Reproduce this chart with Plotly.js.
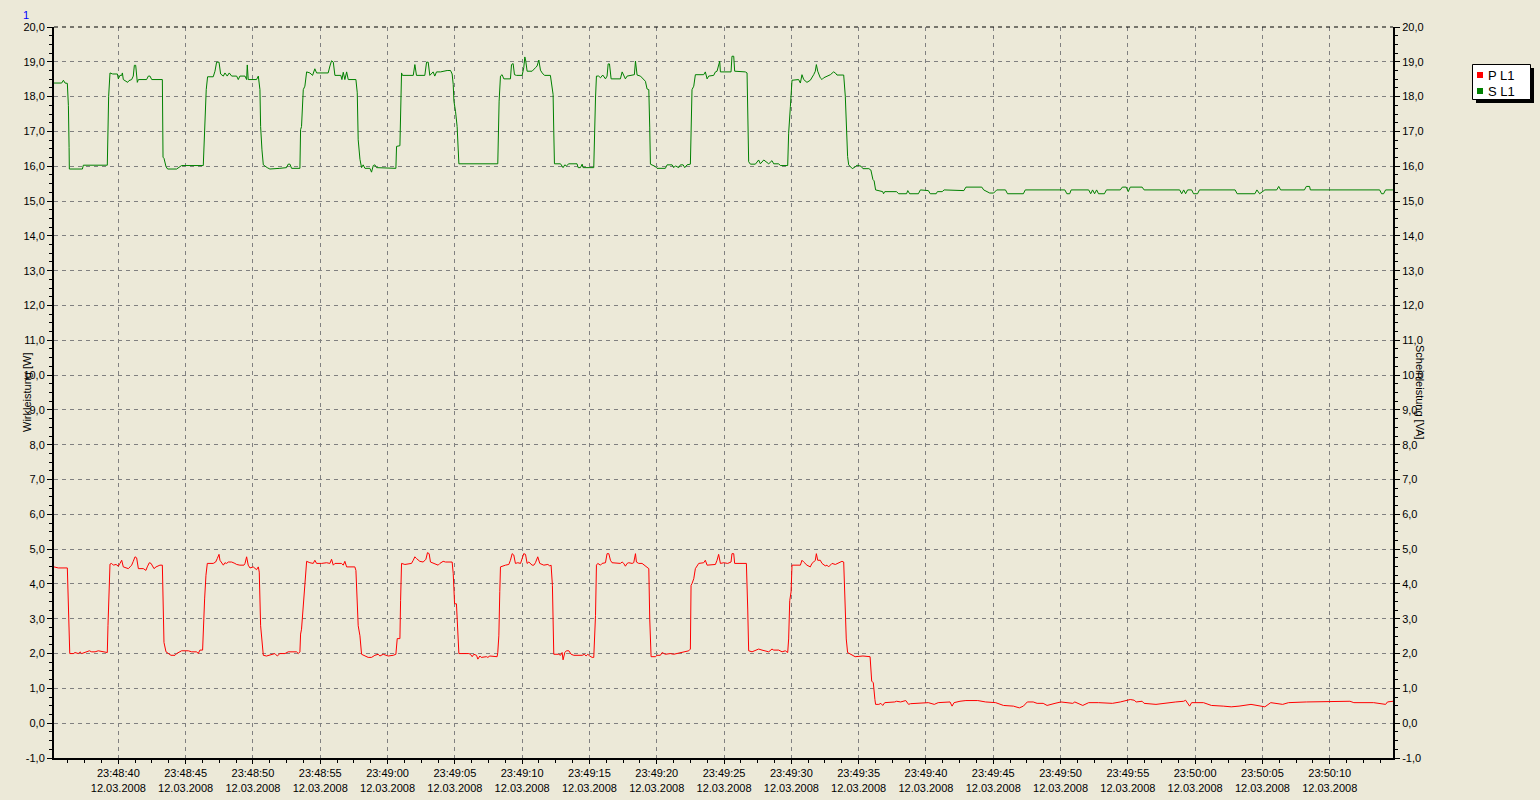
<!DOCTYPE html>
<html>
<head>
<meta charset="utf-8">
<script src="https://cdn.plot.ly/plotly-3.0.1.min.js"></script>
<style>
  html, body { margin: 0; padding: 0; background: #ECE9D8; }
  #chart { width: 1540px; height: 800px; }
</style>
</head>
<body>
<div id="chart"></div>
<script>
// ---- DATA (time in seconds after 23:48:00 on 12.03.2008, value) ----
const DATE_PREFIX = '2008-03-12 23:';
const DATE_LABEL = '12.03.2008';

// P L1 (Wirkleistung [W]) samples: [seconds, value]
const P_L1 = [[35.22,4.49],[35.54,4.46],[36.21,4.46],[36.26,3.81],[36.34,2.61],[36.39,2.00],[36.66,2.00],[36.78,2.03],[37.03,2.00],[37.15,2.05],[37.28,2.00],[37.65,2.05],[37.85,2.08],[38.02,2.05],[38.27,2.05],[38.51,2.08],[39.13,2.05],[39.18,2.03],[39.23,2.80],[39.31,3.86],[39.38,4.57],[39.50,4.59],[39.63,4.54],[39.83,4.56],[40.00,4.51],[40.12,4.59],[40.25,4.68],[40.37,4.49],[40.57,4.46],[40.74,4.44],[40.87,4.49],[40.99,4.54],[41.11,4.65],[41.24,4.78],[41.36,4.75],[41.49,4.44],[41.86,4.44],[42.05,4.39],[42.15,4.49],[42.30,4.61],[42.43,4.59],[42.55,4.52],[42.65,4.44],[42.80,4.49],[43.09,4.54],[43.27,4.54],[43.32,3.43],[43.39,2.32],[43.54,2.05],[43.71,2.00],[43.91,1.95],[44.21,1.95],[44.33,2.00],[44.70,2.08],[45.20,2.08],[45.45,2.05],[45.82,2.05],[45.94,2.00],[46.06,2.10],[46.26,2.10],[46.31,2.75],[46.41,3.57],[46.51,4.25],[46.61,4.59],[47.05,4.59],[47.23,4.63],[47.35,4.73],[47.48,4.85],[47.55,4.68],[47.67,4.59],[47.80,4.54],[47.92,4.61],[48.04,4.59],[48.17,4.63],[48.42,4.63],[48.66,4.59],[48.79,4.56],[49.03,4.54],[49.33,4.54],[49.41,4.59],[49.53,4.78],[49.65,4.54],[49.78,4.46],[50.02,4.49],[50.15,4.46],[50.27,4.41],[50.40,4.49],[50.47,4.34],[50.57,2.80],[50.67,2.37],[50.77,1.95],[51.01,1.93],[51.26,1.95],[51.51,1.98],[51.63,2.00],[51.81,1.93],[52.00,2.00],[52.38,2.00],[52.62,2.05],[53.24,2.05],[53.37,2.00],[53.49,2.05],[53.54,2.56],[53.61,2.70],[53.74,3.43],[53.86,4.15],[53.99,4.65],[54.23,4.61],[54.48,4.59],[54.60,4.68],[54.73,4.59],[55.10,4.59],[55.47,4.61],[55.72,4.59],[55.84,4.71],[55.97,4.54],[56.09,4.59],[56.58,4.59],[56.71,4.54],[56.83,4.65],[56.96,4.49],[57.57,4.49],[57.65,4.39],[57.82,2.80],[57.95,2.51],[58.07,1.98],[58.32,1.93],[58.56,1.89],[58.81,1.89],[59.06,1.95],[59.31,1.98],[59.43,1.93],[59.68,1.98],[60.05,1.93],[60.42,1.95],[60.62,1.98],[60.72,2.43],[60.92,2.43],[60.97,3.52],[61.04,4.59],[61.29,4.56],[61.78,4.59],[61.91,4.68],[62.03,4.78],[62.15,4.73],[62.40,4.65],[62.65,4.63],[62.85,4.71],[62.97,4.90],[63.09,4.87],[63.19,4.63],[63.39,4.59],[63.76,4.54],[63.89,4.59],[64.13,4.65],[64.31,4.63],[64.80,4.63],[64.88,4.30],[64.98,3.43],[65.12,3.43],[65.17,2.99],[65.30,2.00],[66.04,2.00],[66.16,1.98],[66.29,1.91],[66.41,1.98],[66.61,1.95],[66.71,1.84],[66.86,1.93],[66.96,1.89],[67.35,1.91],[67.45,1.89],[67.60,1.93],[68.14,1.91],[68.19,2.03],[68.27,2.51],[68.34,3.78],[68.39,4.49],[68.76,4.54],[69.01,4.56],[69.13,4.68],[69.26,4.87],[69.38,4.83],[69.50,4.59],[69.68,4.61],[69.88,4.59],[70.12,4.87],[70.25,4.85],[70.37,4.59],[70.50,4.63],[70.74,4.54],[70.87,4.54],[70.99,4.61],[71.16,4.78],[71.31,4.59],[71.61,4.54],[71.91,4.56],[72.05,4.52],[72.15,4.54],[72.25,3.96],[72.35,1.98],[72.72,1.98],[72.85,1.95],[72.97,2.03],[73.04,1.82],[73.17,2.03],[73.29,2.08],[73.47,2.08],[73.64,1.98],[73.84,1.95],[74.46,1.95],[74.63,1.98],[74.75,1.93],[74.88,1.98],[75.02,1.93],[75.20,1.89],[75.32,1.89],[75.45,3.09],[75.52,4.54],[75.62,4.59],[75.82,4.54],[75.94,4.59],[76.19,4.61],[76.31,4.87],[76.44,4.87],[76.56,4.68],[76.68,4.61],[77.05,4.61],[77.30,4.59],[77.43,4.63],[77.55,4.59],[77.67,4.51],[77.80,4.59],[77.92,4.61],[78.17,4.59],[78.29,4.61],[78.42,4.87],[78.49,4.63],[78.66,4.59],[78.91,4.59],[79.28,4.49],[79.41,4.44],[79.48,2.99],[79.58,1.91],[79.90,1.91],[80.02,1.95],[80.27,1.95],[80.40,2.03],[80.64,1.98],[81.01,2.00],[81.26,1.98],[81.51,2.00],[82.00,2.03],[82.38,2.08],[82.50,2.13],[82.55,3.96],[82.62,4.01],[82.75,4.15],[82.87,4.44],[83.12,4.59],[83.49,4.61],[83.61,4.68],[83.74,4.54],[84.11,4.56],[84.36,4.56],[84.48,4.68],[84.60,4.85],[84.73,4.59],[84.98,4.61],[85.27,4.59],[85.52,4.63],[85.59,4.87],[85.72,4.87],[85.79,4.59],[86.66,4.59],[86.76,3.28],[86.83,2.08],[87.08,2.05],[87.33,2.08],[87.57,2.13],[87.82,2.10],[88.32,2.05],[88.56,2.13],[88.69,2.10],[89.06,2.10],[89.31,2.05],[89.55,2.08],[89.73,2.03],[89.80,2.42],[89.88,3.52],[89.98,3.77],[90.05,4.54],[90.67,4.54],[90.79,4.68],[90.92,4.63],[91.16,4.54],[91.41,4.49],[91.53,4.59],[91.66,4.63],[91.78,4.68],[91.86,4.87],[91.96,4.68],[92.15,4.68],[92.28,4.59],[92.52,4.52],[92.65,4.54],[92.77,4.49],[93.02,4.59],[93.27,4.56],[93.51,4.61],[93.76,4.65],[93.89,4.63],[93.94,4.05],[94.01,2.99],[94.08,2.42],[94.18,2.03],[94.38,1.98],[94.63,1.93],[94.74,1.91],[95.32,1.93],[95.85,1.91],[95.97,1.21],[96.09,1.16],[96.21,0.68],[96.26,0.54],[96.50,0.54],[96.65,0.57],[96.79,0.51],[96.94,0.59],[97.68,0.61],[97.82,0.63],[98.12,0.61],[98.50,0.65],[98.71,0.54],[98.85,0.56],[100.18,0.59],[100.62,0.54],[100.91,0.59],[101.79,0.61],[101.94,0.49],[102.09,0.59],[102.53,0.63],[102.97,0.65],[103.85,0.65],[104.44,0.61],[105.18,0.59],[105.76,0.51],[106.50,0.49],[106.94,0.44],[107.24,0.49],[107.53,0.61],[107.97,0.61],[108.26,0.57],[108.71,0.57],[109.00,0.51],[109.59,0.57],[110.03,0.61],[110.91,0.57],[111.06,0.61],[111.65,0.51],[112.09,0.59],[112.82,0.59],[113.85,0.57],[114.44,0.61],[114.88,0.66],[115.18,0.68],[115.47,0.66],[115.62,0.61],[116.06,0.63],[116.21,0.57],[117.09,0.54],[117.97,0.59],[118.56,0.61],[119.15,0.63],[119.29,0.66],[119.59,0.49],[119.74,0.59],[120.62,0.59],[121.21,0.51],[122.09,0.49],[122.68,0.47],[123.26,0.49],[124.15,0.54],[125.18,0.47],[125.62,0.59],[126.50,0.54],[126.94,0.59],[128.26,0.61],[129.74,0.61],[130.91,0.62],[131.50,0.63],[131.79,0.59],[133.26,0.59],[134.15,0.54],[134.29,0.61],[134.70,0.63]];

// S L1 (Scheinleistung [VA]) samples: [seconds, value]
const S_L1 = [[35.22,18.39],[35.79,18.39],[35.92,18.47],[36.04,18.39],[36.21,18.38],[36.29,17.74],[36.34,16.54],[36.36,15.92],[37.33,15.92],[37.40,16.03],[39.18,16.03],[39.21,16.92],[39.28,18.01],[39.38,18.68],[39.58,18.65],[39.93,18.65],[40.00,18.51],[40.12,18.61],[40.25,18.61],[40.30,18.68],[40.37,18.49],[40.57,18.44],[40.69,18.41],[40.79,18.46],[40.99,18.49],[41.11,18.59],[41.19,18.90],[41.29,18.90],[41.41,18.41],[41.49,18.49],[42.10,18.49],[42.23,18.59],[42.35,18.59],[42.48,18.49],[43.27,18.49],[43.32,16.26],[43.39,16.23],[43.54,15.99],[43.66,15.92],[44.33,15.92],[44.70,16.02],[46.31,16.02],[46.36,16.47],[46.46,17.34],[46.53,18.20],[46.63,18.57],[47.05,18.57],[47.18,18.73],[47.30,18.99],[47.48,18.99],[47.60,18.65],[47.80,18.59],[47.92,18.68],[48.09,18.59],[48.24,18.68],[48.42,18.59],[48.79,18.59],[48.91,18.49],[49.03,18.59],[49.41,18.59],[49.53,18.49],[49.58,18.91],[49.65,18.49],[50.27,18.49],[50.40,18.59],[50.52,18.20],[50.57,17.14],[50.67,16.47],[50.77,16.04],[51.06,15.96],[51.26,15.92],[52.00,15.94],[52.50,15.96],[52.62,16.06],[52.75,16.06],[52.87,15.94],[53.49,15.94],[53.54,17.05],[53.61,17.14],[53.74,18.20],[53.86,18.30],[53.99,18.71],[54.23,18.68],[54.43,18.61],[54.60,18.80],[54.73,18.68],[55.59,18.68],[55.72,18.88],[55.84,19.03],[55.97,18.99],[56.09,18.61],[56.53,18.61],[56.61,18.49],[56.71,18.70],[56.83,18.49],[56.96,18.71],[57.08,18.49],[57.65,18.49],[57.75,18.11],[57.82,16.76],[57.95,16.20],[58.07,15.96],[58.19,16.04],[58.32,15.94],[58.69,15.94],[58.81,15.83],[58.94,16.02],[59.06,16.04],[59.18,15.96],[60.62,15.94],[60.67,16.57],[60.92,16.59],[60.97,17.63],[61.04,18.68],[61.11,18.61],[61.91,18.61],[62.03,18.92],[62.15,18.61],[62.77,18.61],[62.90,18.99],[63.02,18.99],[63.14,18.61],[63.39,18.71],[63.51,18.59],[63.64,18.71],[63.94,18.71],[64.43,18.75],[64.68,18.75],[64.80,18.65],[64.88,18.35],[64.93,17.87],[65.05,17.58],[65.17,17.14],[65.30,16.07],[68.19,16.07],[68.22,16.66],[68.29,17.87],[68.39,18.59],[68.51,18.63],[68.64,18.51],[69.13,18.51],[69.21,18.92],[69.33,18.95],[69.43,18.63],[69.58,18.61],[70.00,18.61],[70.12,18.83],[70.20,19.14],[70.27,19.02],[70.37,18.73],[70.74,18.73],[70.99,18.83],[71.11,18.88],[71.24,19.05],[71.36,18.76],[71.49,18.68],[71.66,18.61],[72.10,18.61],[72.18,18.39],[72.30,18.06],[72.35,17.00],[72.40,16.07],[72.85,16.07],[73.04,15.96],[73.17,16.04],[73.29,16.01],[73.47,16.07],[74.08,16.07],[74.16,15.96],[74.33,15.96],[74.46,16.06],[74.53,15.96],[75.32,15.96],[75.37,17.10],[75.45,17.96],[75.52,18.59],[75.69,18.59],[75.82,18.54],[75.99,18.62],[76.19,18.51],[76.31,18.59],[76.39,18.94],[76.49,18.94],[76.61,18.51],[77.30,18.51],[77.43,18.71],[77.55,18.63],[77.67,18.51],[77.80,18.59],[78.17,18.62],[78.34,18.63],[78.42,19.02],[78.54,18.62],[78.79,18.59],[79.16,18.44],[79.28,18.22],[79.41,18.20],[79.48,17.10],[79.53,16.06],[79.90,15.99],[80.02,15.94],[80.64,15.94],[80.77,16.04],[81.14,16.04],[81.26,15.96],[81.39,16.01],[81.63,15.96],[81.76,16.04],[81.96,16.04],[82.08,15.96],[82.25,16.04],[82.50,16.06],[82.55,17.10],[82.62,18.20],[82.75,18.30],[82.87,18.63],[83.49,18.63],[83.61,18.71],[83.74,18.51],[83.86,18.59],[84.23,18.61],[84.36,18.71],[84.48,18.73],[84.60,18.92],[84.68,19.02],[84.73,18.71],[85.52,18.71],[85.59,19.16],[85.72,19.16],[85.79,18.73],[86.58,18.71],[86.71,18.68],[86.76,17.72],[86.83,16.13],[86.96,16.06],[87.33,16.06],[87.57,16.18],[87.70,16.07],[87.95,16.18],[88.19,16.11],[88.32,16.07],[88.56,16.16],[88.69,16.07],[89.06,16.07],[89.18,16.02],[89.73,16.02],[89.80,16.95],[89.93,17.72],[89.98,18.11],[90.05,18.47],[90.54,18.49],[90.67,18.39],[90.79,18.63],[90.92,18.49],[91.16,18.41],[91.41,18.47],[91.66,18.63],[91.78,18.73],[91.86,18.92],[91.96,18.73],[92.15,18.54],[92.28,18.49],[92.40,18.54],[92.65,18.59],[92.90,18.63],[93.14,18.71],[93.27,18.68],[93.39,18.62],[93.89,18.62],[94.01,18.01],[94.08,16.95],[94.18,16.28],[94.26,16.04],[94.38,15.98],[94.53,15.93],[94.74,15.98],[94.88,16.03],[95.18,16.00],[95.32,15.93],[95.76,15.93],[95.91,15.89],[96.06,15.62],[96.15,15.58],[96.26,15.32],[96.79,15.27],[96.85,15.21],[96.94,15.27],[97.82,15.27],[97.97,15.21],[98.56,15.21],[98.65,15.30],[98.79,15.21],[99.44,15.21],[99.59,15.32],[100.18,15.30],[100.32,15.21],[100.76,15.21],[100.85,15.27],[101.21,15.27],[101.35,15.32],[102.24,15.32],[102.38,15.30],[102.82,15.30],[102.97,15.40],[104.15,15.40],[104.29,15.32],[104.74,15.23],[105.03,15.23],[105.26,15.32],[105.91,15.32],[106.06,15.21],[107.24,15.21],[107.38,15.32],[110.32,15.32],[110.47,15.21],[110.68,15.21],[110.79,15.32],[112.09,15.32],[112.24,15.21],[112.38,15.32],[112.53,15.21],[112.68,15.32],[112.82,15.21],[113.26,15.21],[113.41,15.32],[114.44,15.32],[114.59,15.40],[114.88,15.40],[115.03,15.27],[115.18,15.40],[116.06,15.40],[116.21,15.32],[118.85,15.32],[119.00,15.21],[119.15,15.32],[119.29,15.21],[119.44,15.32],[119.74,15.32],[119.88,15.21],[120.18,15.21],[120.32,15.32],[122.97,15.32],[123.12,15.21],[124.44,15.21],[124.59,15.32],[124.79,15.21],[125.03,15.27],[125.18,15.32],[126.06,15.32],[126.21,15.42],[126.35,15.32],[128.12,15.32],[128.26,15.42],[128.50,15.42],[128.56,15.32],[133.71,15.32],[133.85,15.21],[134.00,15.21],[134.15,15.32],[134.70,15.32]];

// Axis ticks
const X_TICK_SECONDS = [40,45,50,55,60,65,70,75,80,85,90,95,100,105,110,115,120,125,130];
const X_TICK_TIMES = ['23:48:40','23:48:45','23:48:50','23:48:55','23:49:00','23:49:05','23:49:10','23:49:15','23:49:20','23:49:25','23:49:30','23:49:35','23:49:40','23:49:45','23:49:50','23:49:55','23:50:00','23:50:05','23:50:10'];
const Y_TICK_VALUES = [-1,0,1,2,3,4,5,6,7,8,9,10,11,12,13,14,15,16,17,18,19,20];
const Y_TICK_LABELS = ['-1,0','0,0','1,0','2,0','3,0','4,0','5,0','6,0','7,0','8,0','9,0','10,0','11,0','12,0','13,0','14,0','15,0','16,0','17,0','18,0','19,0','20,0'];
const X_RANGE_SECONDS = [35.22, 134.70];

// ---- helpers ----
function toDate(s) {
  const m = 48 + Math.floor(s / 60);
  const sec = s - 60 * Math.floor(s / 60);
  return DATE_PREFIX + String(m).padStart(2, '0') + ':' + sec.toFixed(3).padStart(6, '0');
}
// plot area in pixels: left 54, right 1393, top 27, bottom 758
const PL = 54, PR = 1393, PT = 27, PB = 758;
const PX = x => (x - PL) / (PR - PL);
const PY = y => (PB - y) / (PB - PT);

const FONT = '"Liberation Sans", Arial, Helvetica, sans-serif';
const GRID = '#808080';

const traces = [
  {
    type: 'scatter', mode: 'lines', name: 'P L1',
    x: P_L1.map(d => toDate(d[0])), y: P_L1.map(d => d[1]),
    line: { color: '#FF0000', width: 1 }, yaxis: 'y', hoverinfo: 'skip'
  },
  {
    type: 'scatter', mode: 'lines', name: 'S L1',
    x: S_L1.map(d => toDate(d[0])), y: S_L1.map(d => d[1]),
    line: { color: '#008000', width: 1 }, yaxis: 'y2', hoverinfo: 'skip'
  }
];

const yCommon = {
  range: [-1, 20], tickmode: 'array', tickvals: Y_TICK_VALUES, ticktext: Y_TICK_LABELS,
  ticks: 'outside', ticklen: 5, tickwidth: 1, tickcolor: '#000',
  tickfont: { family: FONT, size: 11, color: '#000' },
  showline: true, linecolor: '#000', linewidth: 2, zeroline: false,
  minor: { tickmode: 'linear', tick0: -1, dtick: 0.25, ticks: 'outside', ticklen: 3, tickcolor: '#000', tickwidth: 1, showgrid: false },
  fixedrange: true, automargin: false
};

const layout = {
  width: 1540, height: 800,
  paper_bgcolor: '#ECE9D8', plot_bgcolor: '#ECE9D8',
  margin: { l: PL, r: 1540 - PR, t: PT, b: 800 - PB, pad: 0 },
  separators: ',.',
  font: { family: FONT, size: 11, color: '#000' },
  showlegend: false,
  xaxis: {
    type: 'date',
    range: [toDate(X_RANGE_SECONDS[0]), toDate(X_RANGE_SECONDS[1])],
    tickmode: 'array',
    tickvals: X_TICK_SECONDS.map(toDate),
    ticktext: X_TICK_TIMES.map(t => t + '<br>' + DATE_LABEL),
    ticks: 'outside', ticklen: 4, tickwidth: 1, tickcolor: '#000',
    tickfont: { family: FONT, size: 11, color: '#000' },
    showgrid: true, gridcolor: GRID, gridwidth: 1, griddash: '4px,4px',
    showline: true, linecolor: '#000', linewidth: 2, zeroline: false,
    minor: { tickmode: 'linear', tick0: toDate(40), dtick: 1250, ticks: 'outside', ticklen: 3, tickcolor: '#000', tickwidth: 1, showgrid: false },
    fixedrange: true, automargin: false
  },
  yaxis: Object.assign({}, yCommon, {
    side: 'left', showgrid: true, gridcolor: GRID, gridwidth: 1, griddash: '4px,4px'
  }),
  yaxis2: Object.assign({}, yCommon, {
    side: 'right', overlaying: 'y', showgrid: false
  }),
  shapes: [
    // top border dashed
    { type: 'line', xref: 'paper', yref: 'paper', x0: 0, x1: 1, y0: 1, y1: 1,
      line: { color: '#000', width: 1, dash: '4px,4px' } },
    // legend shadow
    { type: 'rect', xref: 'paper', yref: 'paper', x0: PX(1476), x1: PX(1534), y0: PY(103), y1: PY(68),
      fillcolor: '#000', line: { width: 0 } },
    // legend box
    { type: 'rect', xref: 'paper', yref: 'paper', x0: PX(1472.5), x1: PX(1530.5), y0: PY(99.5), y1: PY(64.5),
      fillcolor: '#FFFFFF', line: { color: '#000', width: 1 } },
    // legend swatches
    { type: 'rect', xref: 'paper', yref: 'paper', x0: PX(1477), x1: PX(1483), y0: PY(78), y1: PY(72),
      fillcolor: '#FF0000', line: { width: 0 } },
    { type: 'rect', xref: 'paper', yref: 'paper', x0: PX(1477), x1: PX(1483), y0: PY(94), y1: PY(88),
      fillcolor: '#008000', line: { width: 0 } }
  ],
  annotations: [
    { text: '1', xref: 'paper', yref: 'paper', x: PX(25.5), y: PY(15), xanchor: 'center', yanchor: 'middle',
      showarrow: false, font: { family: FONT, size: 11, color: '#0000FF' } },
    { text: 'Wirkleistung [W]', xref: 'paper', yref: 'paper', x: PX(27), y: PY(393), xanchor: 'center', yanchor: 'middle',
      textangle: -90, showarrow: false, font: { family: FONT, size: 11, color: '#000' } },
    { text: 'Scheinleistung [VA]', xref: 'paper', yref: 'paper', x: PX(1420), y: PY(392), xanchor: 'center', yanchor: 'middle',
      textangle: 90, showarrow: false, font: { family: FONT, size: 11, color: '#000' } },
    { text: 'P L1', xref: 'paper', yref: 'paper', x: PX(1485.5), y: PY(75), xanchor: 'left', yanchor: 'middle',
      showarrow: false, font: { family: FONT, size: 13, color: '#000' } },
    { text: 'S L1', xref: 'paper', yref: 'paper', x: PX(1485.5), y: PY(91), xanchor: 'left', yanchor: 'middle',
      showarrow: false, font: { family: FONT, size: 13, color: '#000' } }
  ]
};

Plotly.newPlot('chart', traces, layout, { displayModeBar: false, staticPlot: true });
</script>
</body>
</html>
